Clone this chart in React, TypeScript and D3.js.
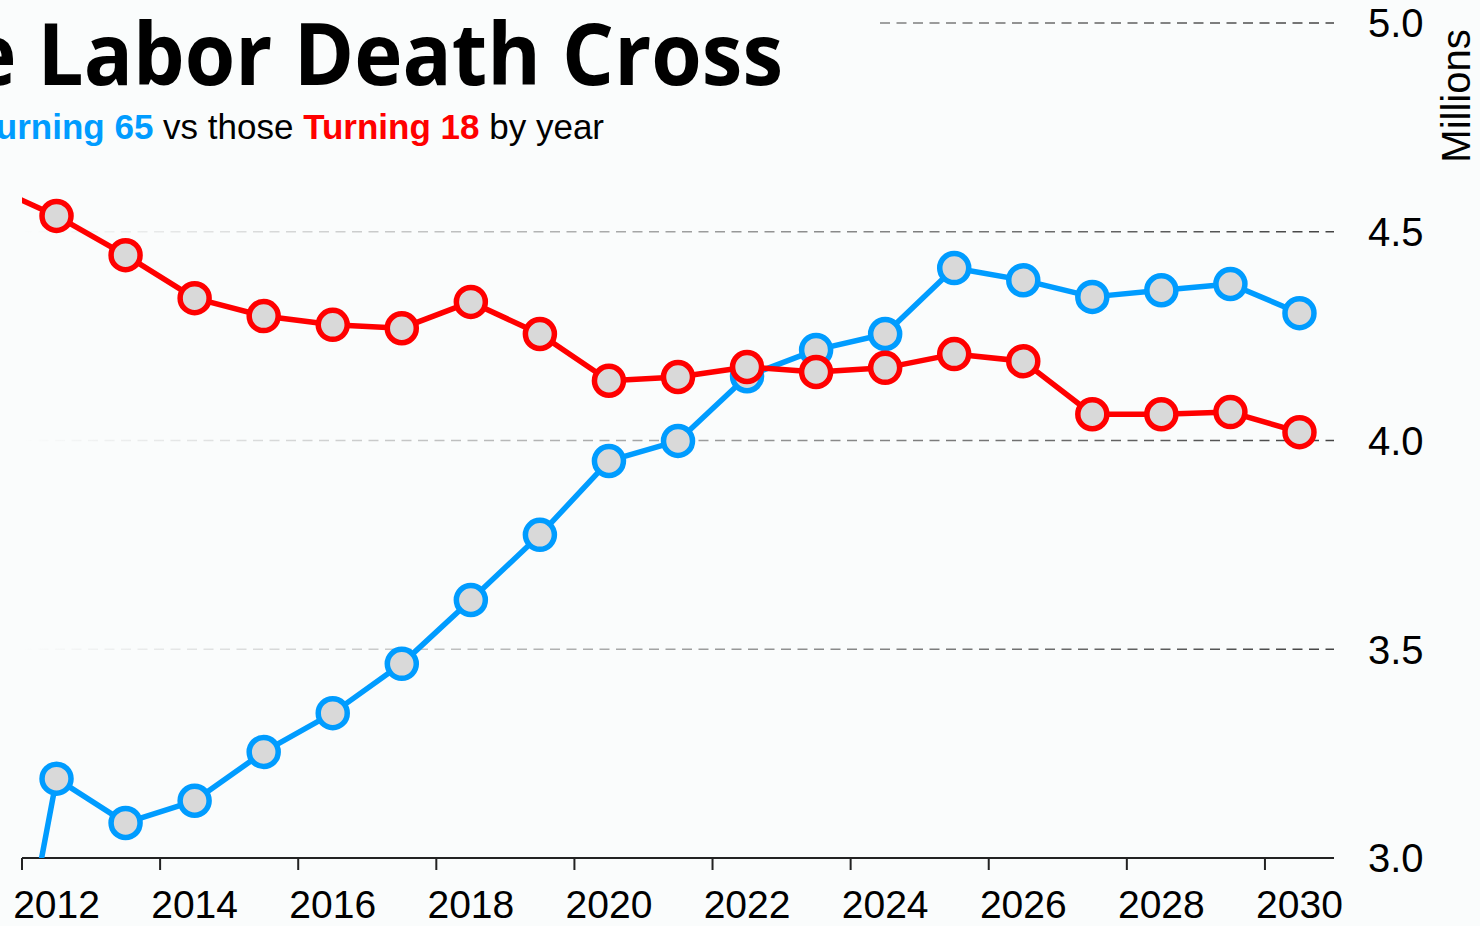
import { useEffect, useRef } from "react";
import * as d3 from "d3";

const years = [2011, 2012, 2013, 2014, 2015, 2016, 2017, 2018, 2019, 2020, 2021, 2022, 2023, 2024, 2025, 2026, 2027, 2028, 2029, 2030];
// millions of people turning 65 / turning 18, per year
const turning65 = [2.31, 3.19, 3.084, 3.137, 3.254, 3.347, 3.465, 3.618, 3.774, 3.951, 3.999, 4.154, 4.217, 4.255, 4.413, 4.384, 4.344, 4.36, 4.375, 4.305];
const turning18 = [4.613, 4.538, 4.444, 4.341, 4.298, 4.277, 4.269, 4.332, 4.255, 4.143, 4.152, 4.176, 4.164, 4.174, 4.207, 4.19, 4.063, 4.063, 4.068, 4.02];
const xTickYears = [2012, 2014, 2016, 2018, 2020, 2022, 2024, 2026, 2028, 2030];
const yTicks = [3.0, 3.5, 4.0, 4.5, 5.0];

const W = 1480;
const H = 926;
const BG = "#fafcfc";
const BLUE = "#009cff";
const RED = "#ff0000";

const App = () => {
	const svgRef = useRef<SVGSVGElement>(null);

	useEffect(() => {
		const left = 22;
		const right = 1334;
		const top = 23;
		const bottom = 858;

		const x = d3.scaleLinear().domain([2011.5, 2030.5]).range([left, right]);
		const y = d3.scaleLinear().domain([3, 5]).range([bottom, top]);

		const svg = d3.select(svgRef.current);
		svg.selectAll("*").remove();

		svg.append("rect").attr("width", W).attr("height", H).attr("fill", BG);

		const defs = svg.append("defs");
		const grad = defs
			.append("linearGradient")
			.attr("id", "gridFade")
			.attr("gradientUnits", "userSpaceOnUse")
			.attr("x1", left)
			.attr("x2", right)
			.attr("y1", 0)
			.attr("y2", 0);
		grad.append("stop").attr("offset", 0).attr("stop-color", "#444").attr("stop-opacity", 0);
		grad.append("stop").attr("offset", 1).attr("stop-color", "#444").attr("stop-opacity", 1);

		defs.append("clipPath")
			.attr("id", "plotClip")
			.append("rect")
			.attr("x", left)
			.attr("y", 0)
			.attr("width", right - left)
			.attr("height", bottom);

		// dashed gridlines fading in from the left
		svg.append("g")
			.selectAll("line")
			.data(yTicks.filter((d) => d > 3))
			.join("line")
			.attr("x1", left)
			.attr("x2", right)
			.attr("y1", (d) => y(d))
			.attr("y2", (d) => y(d))
			.attr("stroke", "url(#gridFade)")
			.attr("stroke-width", 1.5)
			.attr("stroke-dasharray", "10 6.5");

		// title panel hides the top gridline
		svg.append("rect").attr("x", 0).attr("y", 0).attr("width", 876).attr("height", 160).attr("fill", BG);

		svg.append("text")
			.attr("transform", "translate(783,85) scale(0.95,1)")
			.attr("text-anchor", "end")
			.attr("font-family", "'Open Sans', 'Noto Sans', sans-serif")
			.attr("font-weight", 700)
			.attr("font-size", 86)
			.attr("fill", "#000")
			.text("The Labor Death Cross");

		const sub = svg
			.append("text")
			.attr("x", 604)
			.attr("y", 139)
			.attr("text-anchor", "end")
			.attr("font-family", "'Liberation Sans', Arial, sans-serif")
			.attr("font-size", 35)
			.attr("fill", "#000")
			.style("white-space", "pre");
		sub.append("tspan").text("Those ");
		sub.append("tspan").attr("fill", BLUE).attr("font-weight", 700).text("Turning 65");
		sub.append("tspan").text(" vs those ");
		sub.append("tspan").attr("fill", RED).attr("font-weight", 700).text("Turning 18");
		sub.append("tspan").text(" by year");

		// x axis
		const axis = svg.append("g").attr("stroke", "#222").attr("stroke-width", 2);
		axis.append("line").attr("x1", left).attr("x2", right).attr("y1", bottom).attr("y2", bottom);
		axis.selectAll("line.tick")
			.data(xTickYears)
			.join("line")
			.attr("class", "tick")
			.attr("x1", (d) => x(d - 0.5))
			.attr("x2", (d) => x(d - 0.5))
			.attr("y1", bottom)
			.attr("y2", bottom + 12);

		svg.append("g")
			.attr("font-family", "'Liberation Sans', Arial, sans-serif")
			.attr("font-size", 39)
			.attr("fill", "#000")
			.attr("text-anchor", "middle")
			.selectAll("text")
			.data(xTickYears)
			.join("text")
			.attr("x", (d) => x(d))
			.attr("y", 918)
			.text((d) => String(d));

		// y labels on the right
		svg.append("g")
			.attr("font-family", "'Liberation Sans', Arial, sans-serif")
			.attr("font-size", 40)
			.attr("fill", "#000")
			.selectAll("text")
			.data(yTicks)
			.join("text")
			.attr("x", 1368)
			.attr("y", (d) => y(d))
			.attr("dy", "0.36em")
			.text((d) => d.toFixed(1));

		svg.append("text")
			.attr("transform", "translate(1470,96) rotate(-90)")
			.attr("text-anchor", "middle")
			.attr("font-family", "'Liberation Sans', Arial, sans-serif")
			.attr("font-size", 40)
			.attr("fill", "#000")
			.text("Millions");

		const plot = svg.append("g").attr("clip-path", "url(#plotClip)");
		const series = [
			{ values: turning65, color: BLUE },
			{ values: turning18, color: RED },
		];
		const line = d3
			.line<number>()
			.x((_, i) => x(years[i]))
			.y((d) => y(d));

		series.forEach((s) => {
			plot.append("path")
				.attr("d", line(s.values))
				.attr("fill", "none")
				.attr("stroke", s.color)
				.attr("stroke-width", 5.5)
				.attr("stroke-linejoin", "round");
			plot.append("g")
				.selectAll("circle")
				.data(s.values)
				.join("circle")
				.attr("cx", (_, i) => x(years[i]))
				.attr("cy", (d) => y(d))
				.attr("r", 14.5)
				.attr("fill", "#d9d9d9")
				.attr("stroke", s.color)
				.attr("stroke-width", 5.5);
		});
	}, []);

	return (
		<div style={{ position: "fixed", left: 0, top: 0, width: W, height: H, overflow: "hidden" }}>
			<svg ref={svgRef} width={W} height={H} style={{ display: "block" }}></svg>
		</div>
	);
};

export default App;
